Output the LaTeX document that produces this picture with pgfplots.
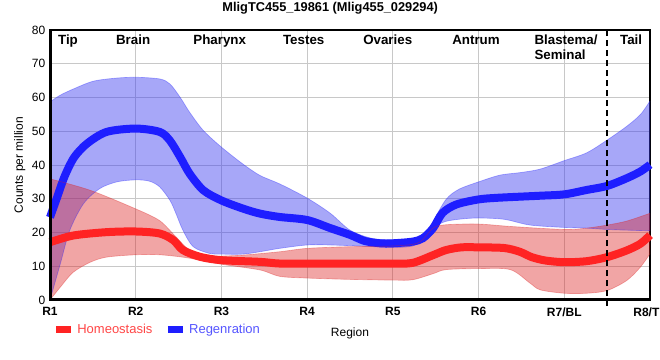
\documentclass[border=0pt]{standalone}
\usepackage{pgfplots}
\pgfplotsset{compat=1.18}
\usepgfplotslibrary{fillbetween}
\usepackage{fontspec}
\setmainfont{Liberation Sans}
\definecolor{bline}{RGB}{30,30,255}
\definecolor{rline}{RGB}{255,35,35}
\definecolor{bfill}{RGB}{60,60,240}
\definecolor{rfill}{RGB}{220,30,30}
\definecolor{gridc}{RGB}{200,200,200}
\definecolor{rtext}{RGB}{255,70,70}
\definecolor{btext}{RGB}{85,85,255}
\begin{document}
\begin{tikzpicture}
\begin{axis}[at={(0,0)}, anchor=south west, scale only axis, width=450pt, height=202.5pt,
  xmin=1, xmax=8, ymin=0, ymax=80,
  xtick={1,2,3,4,5,6,7,8}, xticklabels={R1,R2,R3,R4,R5,R6,R7/BL,R8/TL},
  ytick={0,10,20,30,40,50,60,70,80},
  grid=major, major grid style={gridc, line width=0.6pt},
  major tick length=0pt,
  axis line style={line width=1.1pt},
  tick label style={font=\fontsize{9}{10}\selectfont},
  xticklabel style={font=\bfseries\fontsize{9}{10}\selectfont, yshift=-2pt},
  /pgf/number format/assume math mode=true,
  ylabel={Counts per million},
  ylabel style={font=\fontsize{9}{10}\selectfont, at={(axis description cs:-0.033,0.5)}, anchor=south},
  xlabel={Region},
  xlabel style={font=\fontsize{9}{10}\selectfont, at={(axis description cs:0.5,-0.084)}, anchor=north},
  clip=false,
  legend style={at={(axis description cs:0.004,-0.111)}, anchor=west, draw=none, fill=none,
    inner sep=0pt, legend columns=2, font=\fontsize{9.75}{11}\selectfont,
    /tikz/every even column/.append style={column sep=7pt}},
  legend cell align=left,
  legend image code/.code={\draw[#1, line width=5.25pt] (0pt,0pt) -- (11.25pt,0pt);},
]
\addlegendimage{rline}
\addlegendentry{\textcolor{rtext}{Homeostasis}}
\addlegendimage{bline}
\addlegendentry{\textcolor{btext}{Regenration}}
% Regeneration band
\addplot[name path=bu, smooth, bline, draw opacity=0.35, line width=0.5pt, forget plot] coordinates {
(1,58.7)(1.12,60.7)(1.27,62.5)(1.5,64.8)(1.75,65.7)(2,66)(2.28,65.5)(2.4,64)(2.52,60)(2.63,55.6)(2.79,50.2)(3,45.3)(3.25,40.3)(3.45,36.9)(3.68,34.4)(4,30.2)(4.27,25.7)(4.5,20.7)(4.75,18.3)(5,17.8)(5.3,18.3)(5.4,20)(5.47,23.3)(5.62,29.8)(5.77,32.8)(6,35)(6.25,37)(6.5,37.8)(6.72,38.8)(7,41.3)(7.26,43.6)(7.5,47.4)(7.73,51.5)(7.89,55)(8,59)};
\addplot[name path=bl, smooth, bline, draw opacity=0.35, line width=0.5pt, forget plot] coordinates {
(1,0)(1.12,10.7)(1.23,20.6)(1.39,28.5)(1.58,33)(1.78,35)(2,35.6)(2.16,35.2)(2.28,33.5)(2.4,29.5)(2.47,25.6)(2.55,20.7)(2.67,15.8)(2.86,13.8)(3,13.6)(3.25,13.6)(3.45,14.3)(3.68,15.3)(4,16.3)(4.27,16.3)(4.6,16)(5,15.6)(5.23,16)(5.39,18.3)(5.5,21.8)(5.62,23.3)(5.8,24)(6,24.3)(6.3,23.9)(6.6,22.2)(7,21.5)(7.26,21.3)(7.5,20.9)(7.73,20.7)(8,20.5)};
\addplot[bfill, fill opacity=0.45, draw=none, forget plot] fill between[of=bu and bl];
% Regeneration mean
\addplot[smooth, bline, line width=6pt, forget plot] coordinates {
(1,24.5)(1.08,30.2)(1.17,36.6)(1.28,42.2)(1.43,46.3)(1.66,49.8)(2,50.8)(2.28,49.8)(2.4,47.2)(2.52,42.3)(2.63,37.4)(2.79,32.5)(3,29.5)(3.25,27.1)(3.45,25.6)(3.68,24.6)(4,23.7)(4.27,21.3)(4.5,19.3)(4.67,17.5)(4.85,16.8)(5,16.8)(5.23,17.3)(5.35,18.3)(5.47,21.3)(5.58,25.8)(5.74,28.3)(6,29.8)(6.23,30.3)(6.72,30.9)(7,31.3)(7.26,32.6)(7.5,33.8)(7.73,36.1)(7.89,38.1)(8,40.1)};
% Homeostasis band
\addplot[name path=ru, smooth, rfill, draw opacity=0.35, line width=0.5pt, forget plot] coordinates {
(1,35.9)(1.47,32.5)(2,27)(2.28,23.5)(2.47,18.7)(2.63,14.8)(2.86,12.9)(3,13)(3.25,13.3)(3.68,14.3)(4,15.3)(4.5,15.8)(5,16)(5.3,17)(5.47,21.3)(5.62,22.3)(6,22.5)(6.37,21.8)(7,20.9)(7.26,21.3)(7.5,22.2)(7.73,23.4)(8,25.7)};
\addplot[name path=rl, smooth, rfill, draw opacity=0.35, line width=0.5pt, forget plot] coordinates {
(1,0)(1.12,3.8)(1.27,8.2)(1.47,11.2)(1.66,12.7)(2,13.4)(2.28,13.4)(2.6,12.5)(3,10.6)(3.45,8.9)(3.68,7)(4,6.5)(4.5,6.1)(5,5.9)(5.23,6)(5.47,7.8)(5.62,9)(6,9.3)(6.37,9)(6.6,5)(6.72,3)(7,2)(7.26,2)(7.5,2.8)(7.73,5.8)(7.89,9.8)(8,13.7)};
\addplot[rfill, fill opacity=0.4, draw=none, forget plot] fill between[of=ru and rl];
% Homeostasis mean
\addplot[smooth, rline, line width=6pt, forget plot] coordinates {
(1,17.1)(1.27,19.1)(1.66,20.1)(2,20.3)(2.28,19.7)(2.44,17.7)(2.55,14.8)(2.75,12.8)(3,11.8)(3.45,11.3)(3.68,10.8)(4,10.8)(4.5,10.8)(5,10.8)(5.23,11)(5.47,13.3)(5.62,14.8)(5.8,15.6)(6,15.6)(6.3,15.4)(6.48,14.3)(6.62,12.7)(6.78,11.7)(7,11.2)(7.26,11.5)(7.5,12.7)(7.73,14.7)(7.89,16.7)(8,19.2)};
% frame emphasis
\draw[line width=1.5pt, dash pattern=on 4.5pt off 3pt] (axis cs:7.5,-1.8) -- (axis cs:7.5,80);
\draw[line width=2.25pt] (rel axis cs:0,1) -- (rel axis cs:0,0) -- (rel axis cs:1,0);
% region labels
\begin{scope}[every node/.style={font=\bfseries\fontsize{10}{11}\selectfont, inner sep=0pt, yshift=-3.75pt}]
\node[anchor=north] at (axis cs:1.21,80) {Tip};
\node[anchor=north] at (axis cs:1.97,80) {Brain};
\node[anchor=north] at (axis cs:2.98,80) {Pharynx};
\node[anchor=north] at (axis cs:3.96,80) {Testes};
\node[anchor=north] at (axis cs:4.94,80) {Ovaries};
\node[anchor=north] at (axis cs:5.97,80) {Antrum};
\node[anchor=north west, align=left] at (axis cs:6.65,80) {Blastema/\\Seminal};
\node[anchor=north] at (axis cs:7.78,80) {Tail};
\end{scope}
\node[font=\bfseries\fontsize{9.6}{11}\selectfont, yshift=16.5pt] at (rel axis cs:0.467,1) {MligTC455\_19861 (Mlig455\_029294)};
\end{axis}
\pgfresetboundingbox
\useasboundingbox (-37.5pt,-45pt) rectangle (457.5pt,225pt);
\end{tikzpicture}
\end{document}
